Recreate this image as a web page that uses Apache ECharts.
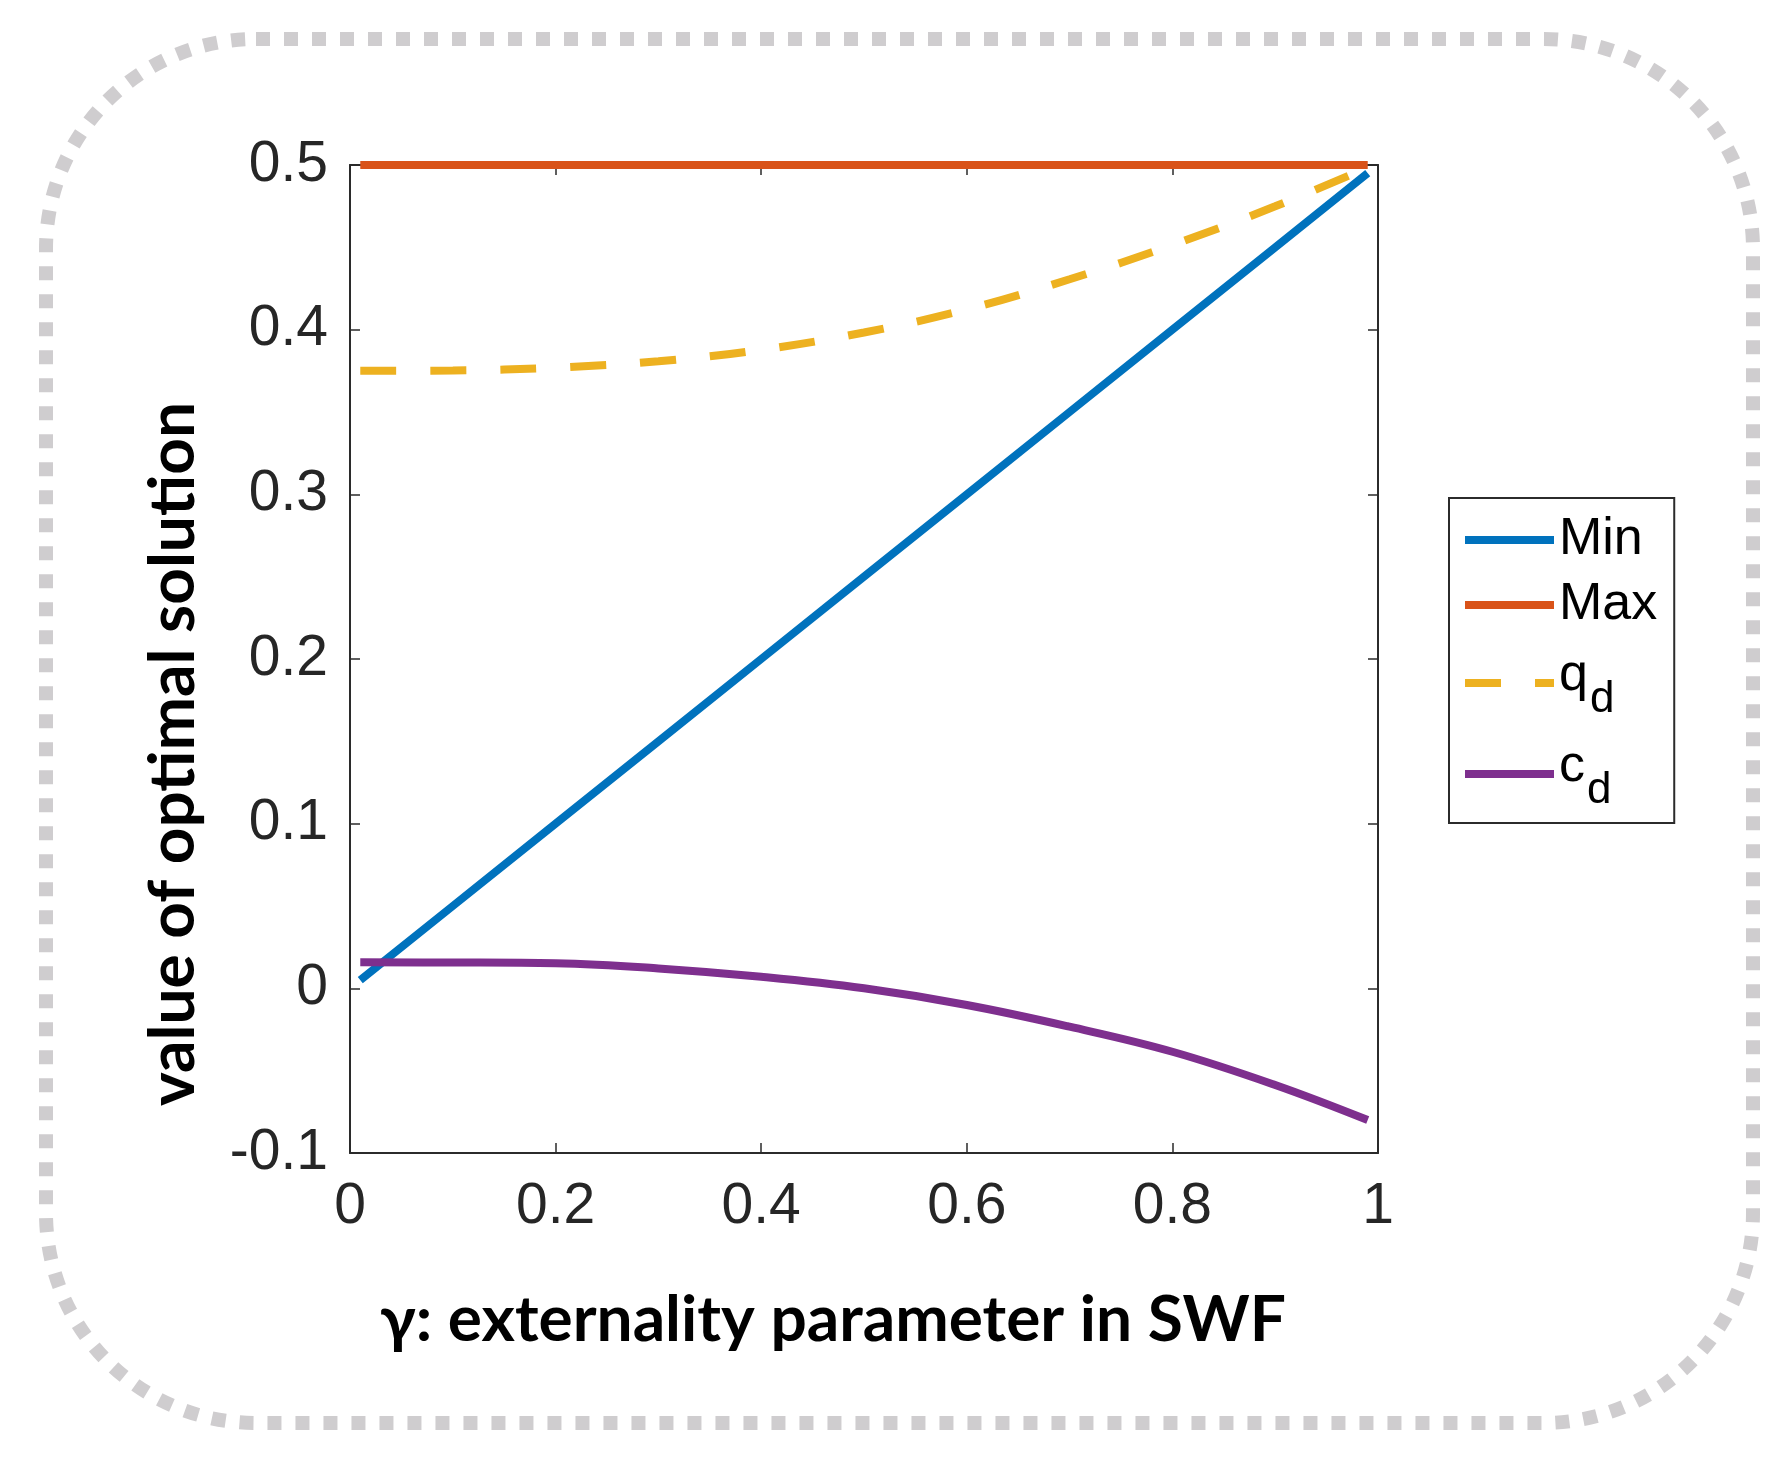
<!DOCTYPE html>
<html>
<head>
<meta charset="utf-8">
<title>optimal solution vs gamma</title>
<script src="https://cdn.jsdelivr.net/npm/echarts@6/dist/echarts.min.js"></script>
<style>
  html, body { margin: 0; padding: 0; background: #fff; }
  #chart { width: 1781px; height: 1457px; }
</style>
</head>
<body>
<div id="chart"></div>
<script>
// gamma samples (x) and values
var gamma = [0.01, 0.1, 0.2, 0.3, 0.4, 0.5, 0.6, 0.7, 0.8, 0.9, 0.99];
var minVals = [0.005, 0.05, 0.1, 0.15, 0.2, 0.25, 0.3, 0.35, 0.4, 0.45, 0.495];
var maxVals = [0.5, 0.5, 0.5, 0.5, 0.5, 0.5, 0.5, 0.5, 0.5, 0.5, 0.5];
var qdVals = [0.375, 0.3752, 0.3770, 0.3808, 0.3878, 0.3983, 0.4123, 0.4306, 0.4514, 0.4749, 0.4985];
var cdVals = [0.0158, 0.0157, 0.0152, 0.0121, 0.0070, 0.0, -0.0101, -0.0233, -0.0385, -0.0587, -0.080];

var seriesNames = ['Min', 'Max', 'qd', 'cd'];
var legendLabels = ['{m|Min}', '{m|Max}', '{b|q}{s|d}', '{b|c}{s|d}'];

var xTitle = 'γ: externality parameter in SWF';
var yTitle = 'value of optimal solution';

function pairs(ys) {
    return gamma.map(function(g, i) { return [g, ys[i]]; });
}

var axisColor = '#2b2b2b';
var tickFont = { fontFamily: 'Liberation Sans', fontSize: 57, color: '#262626' };

function frameAxis(extra) {
    var base = {
        type: 'value',
        axisLine: { show: true, onZero: false, lineStyle: { color: axisColor, width: 2 } },
        axisTick: { show: true, inside: true, length: 10, lineStyle: { color: axisColor, width: 1.5 } },
        splitLine: { show: false }
    };
    for (var k in extra) base[k] = extra[k];
    return base;
}

var chart = echarts.init(document.getElementById('chart'));

var option = {
    animation: false,
    backgroundColor: '#fff',
    grid: { left: 350, top: 165, width: 1028, height: 988 },
    xAxis: [
        frameAxis({
            min: 0, max: 1, interval: 0.2, position: 'bottom',
            axisLabel: { margin: 26, fontFamily: tickFont.fontFamily, fontSize: tickFont.fontSize, color: tickFont.color },
            name: xTitle, nameLocation: 'middle', nameGap: 135,
            nameTextStyle: { fontFamily: 'Lato', fontWeight: 'bold', fontSize: 64, color: '#000', padding: [0, 62, 0, 0] }
        }),
        frameAxis({ min: 0, max: 1, interval: 0.2, position: 'top', axisLabel: { show: false } })
    ],
    yAxis: [
        frameAxis({
            min: -0.1, max: 0.5, interval: 0.1, position: 'left',
            axisLabel: { margin: 22, fontFamily: tickFont.fontFamily, fontSize: tickFont.fontSize, color: tickFont.color },
            name: yTitle, nameLocation: 'middle', nameGap: 145, nameRotate: 90,
            nameTextStyle: { fontFamily: 'Lato', fontWeight: 'bold', fontSize: 64, color: '#000', padding: [0, 190, 0, 0] }
        }),
        frameAxis({ min: -0.1, max: 0.5, interval: 0.1, position: 'right', axisLabel: { show: false } })
    ],
    legend: {
        orient: 'vertical',
        left: 1449,
        top: 498,
        padding: [16, 17, 10, 12],
        itemGap: 13,
        itemWidth: 89,
        itemHeight: 14,
        borderColor: axisColor,
        borderWidth: 2,
        backgroundColor: '#fff',
        data: seriesNames,
        lineStyle: { width: 8 },
        itemStyle: { color: 'rgba(0,0,0,0)', borderWidth: 0 },
        formatter: function(name) {
            return legendLabels[seriesNames.indexOf(name)];
        },
        textStyle: {
            rich: {
                m: { fontFamily: 'Liberation Sans', fontSize: 52, lineHeight: 56, color: '#000' },
                b: { fontFamily: 'Liberation Sans', fontSize: 52, lineHeight: 56, padding: [0, 0, 14, 0], color: '#000' },
                s: { fontFamily: 'Liberation Sans', fontSize: 44, lineHeight: 12, padding: [34, 0, 0, 2], color: '#000' }
            }
        }
    },
    graphic: [{
        type: 'rect',
        silent: true,
        z: -10,
        shape: { x: 46, y: 39, width: 1707, height: 1384, r: 210 },
        style: { fill: 'none', stroke: '#cfcdcf', lineWidth: 14, lineDash: [14, 14] }
    }],
    series: [
        { name: 'Min', type: 'line', data: pairs(minVals), symbol: 'none', clip: false,
          lineStyle: { color: '#0072BD', width: 8 }, itemStyle: { color: '#0072BD' } },
        { name: 'Max', type: 'line', data: pairs(maxVals), symbol: 'none', clip: false,
          lineStyle: { color: '#D95319', width: 8 }, itemStyle: { color: '#D95319' } },
        { name: 'qd', type: 'line', data: pairs(qdVals), symbol: 'none', clip: false, smooth: 0.4,
          lineStyle: { color: '#EDB120', width: 8, type: [36, 34] }, itemStyle: { color: '#EDB120' } },
        { name: 'cd', type: 'line', data: pairs(cdVals), symbol: 'none', clip: false, smooth: 0.4,
          lineStyle: { color: '#7E2F8E', width: 8 }, itemStyle: { color: '#7E2F8E' } }
    ]
};

chart.setOption(option);
</script>
</body>
</html>
